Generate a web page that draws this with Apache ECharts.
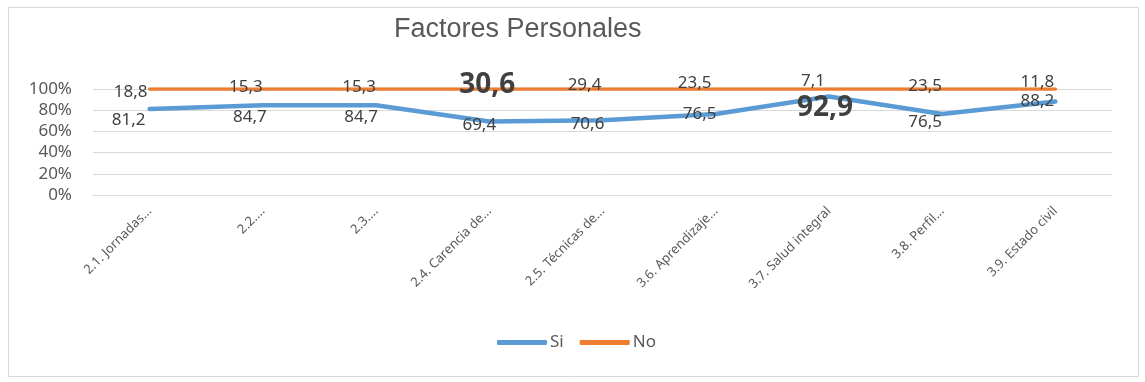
<!DOCTYPE html>
<html>
<head>
<meta charset="utf-8">
<script src="https://cdn.jsdelivr.net/npm/echarts@6/dist/echarts.min.js"></script>
<style>
  html, body { margin: 0; padding: 0; background: #fff; }
  #chart { width: 1145px; height: 382px; }
</style>
</head>
<body>
<div id="chart"></div>
<script>
// data
var categories = ['2.1. Jornadas...', '2.2....', '2.3....', '2.4. Carencia de...', '2.5. Técnicas de...',
  '3.6. Aprendizaje...', '3.7. Salud integral', '3.8. Perfil...', '3.9. Estado civil'];
var siValues = [81.2, 84.7, 84.7, 69.4, 70.6, 76.5, 92.9, 76.5, 88.2];
var noValues = [18.8, 15.3, 15.3, 30.6, 29.4, 23.5, 7.1, 23.5, 11.8];
var yTicks = [0, 20, 40, 60, 80, 100];

// label placement (px offsets from the point), Excel put them by hand
var siLabelOffset = [[-21, 11], [-13, 12], [-15, 12], [-10, 4], [-15, 4], [-16, 0], [-4, 12], [-17, 8], [-18, 0]];
var noLabelOffset = [[-19, 3], [-17, -2], [-17, -2], [-2, -4], [-18, -4], [-21, -6], [-16, -8], [-17, -3], [-18, -7]];
var siBig = 6;   // 92,9 bold
var noBig = 3;   // 30,6 bold

function fmt(v) { return String(v).replace('.', ','); }

function buildData(values, offsets, bigIdx) {
  return values.map(function (v, i) {
    var big = i === bigIdx;
    return {
      value: v,
      label: {
        offset: offsets[i],
        fontSize: big ? 28 : 17,
        fontWeight: big ? 'bold' : 'normal'
      }
    };
  });
}

var chart = echarts.init(document.getElementById('chart'));
var option = {
  backgroundColor: '#fff',
  animation: false,
  textStyle: { fontFamily: 'Noto Sans' },
  graphic: [{
    type: 'rect',
    shape: { x: 8.5, y: 7.5, width: 1130, height: 369 },
    style: { fill: 'none', stroke: '#d9d9d9', lineWidth: 1 },
    silent: true
  }],
  title: {
    text: 'Factores Personales',
    left: 394,
    top: 16,
    padding: 0,
    textStyle: { fontFamily: 'Liberation Sans', fontSize: 27, fontWeight: 'normal', color: '#595959' }
  },
  legend: {
    data: ['Si', 'No'],
    left: 497,
    top: 334,
    padding: 0,
    icon: 'roundRect',
    itemWidth: 50,
    itemHeight: 5,
    itemGap: 16,
    textStyle: { fontSize: 17, color: '#595959', padding: [0, 0, 0, -2] }
  },
  grid: {
    left: 93,
    right: 33,
    top: 89,
    bottom: 187
  },
  xAxis: {
    type: 'category',
    data: categories,
    boundaryGap: true,
    axisLine: { lineStyle: { color: '#d9d9d9', width: 1 } },
    axisTick: { show: false },
    axisLabel: {
      interval: 0,
      rotate: 45,
      margin: 14,
      fontSize: 13,
      color: '#595959'
    }
  },
  yAxis: {
    type: 'value',
    min: yTicks[0],
    max: yTicks[yTicks.length - 1],
    interval: 20,
    axisLine: { show: false },
    axisTick: { show: false },
    splitLine: { lineStyle: { color: '#d9d9d9', width: 1 } },
    axisLabel: {
      formatter: '{value}%',
      fontSize: 17,
      color: '#595959',
      margin: 21
    }
  },
  series: [{
    name: 'Si',
    type: 'line',
    stack: 'total',
    symbol: 'circle',
    symbolSize: 0.1,
    showSymbol: true,
    itemStyle: { color: '#5b9bd5' },
    lineStyle: { width: 4.5, color: '#5b9bd5', cap: 'round', join: 'round' },
    label: {
      show: true,
      position: 'inside',
      color: '#404040',
      formatter: function (p) { return fmt(p.value); }
    },
    data: buildData(siValues, siLabelOffset, siBig)
  }, {
    name: 'No',
    type: 'line',
    stack: 'total',
    symbol: 'circle',
    symbolSize: 0.1,
    showSymbol: true,
    itemStyle: { color: '#ed7d31' },
    lineStyle: { width: 3.5, color: '#ed7d31', cap: 'round', join: 'round' },
    label: {
      show: true,
      position: 'inside',
      color: '#404040',
      formatter: function (p) { return fmt(p.value); }
    },
    data: buildData(noValues, noLabelOffset, noBig)
  }]
};
chart.setOption(option, true);
</script>
</body>
</html>
